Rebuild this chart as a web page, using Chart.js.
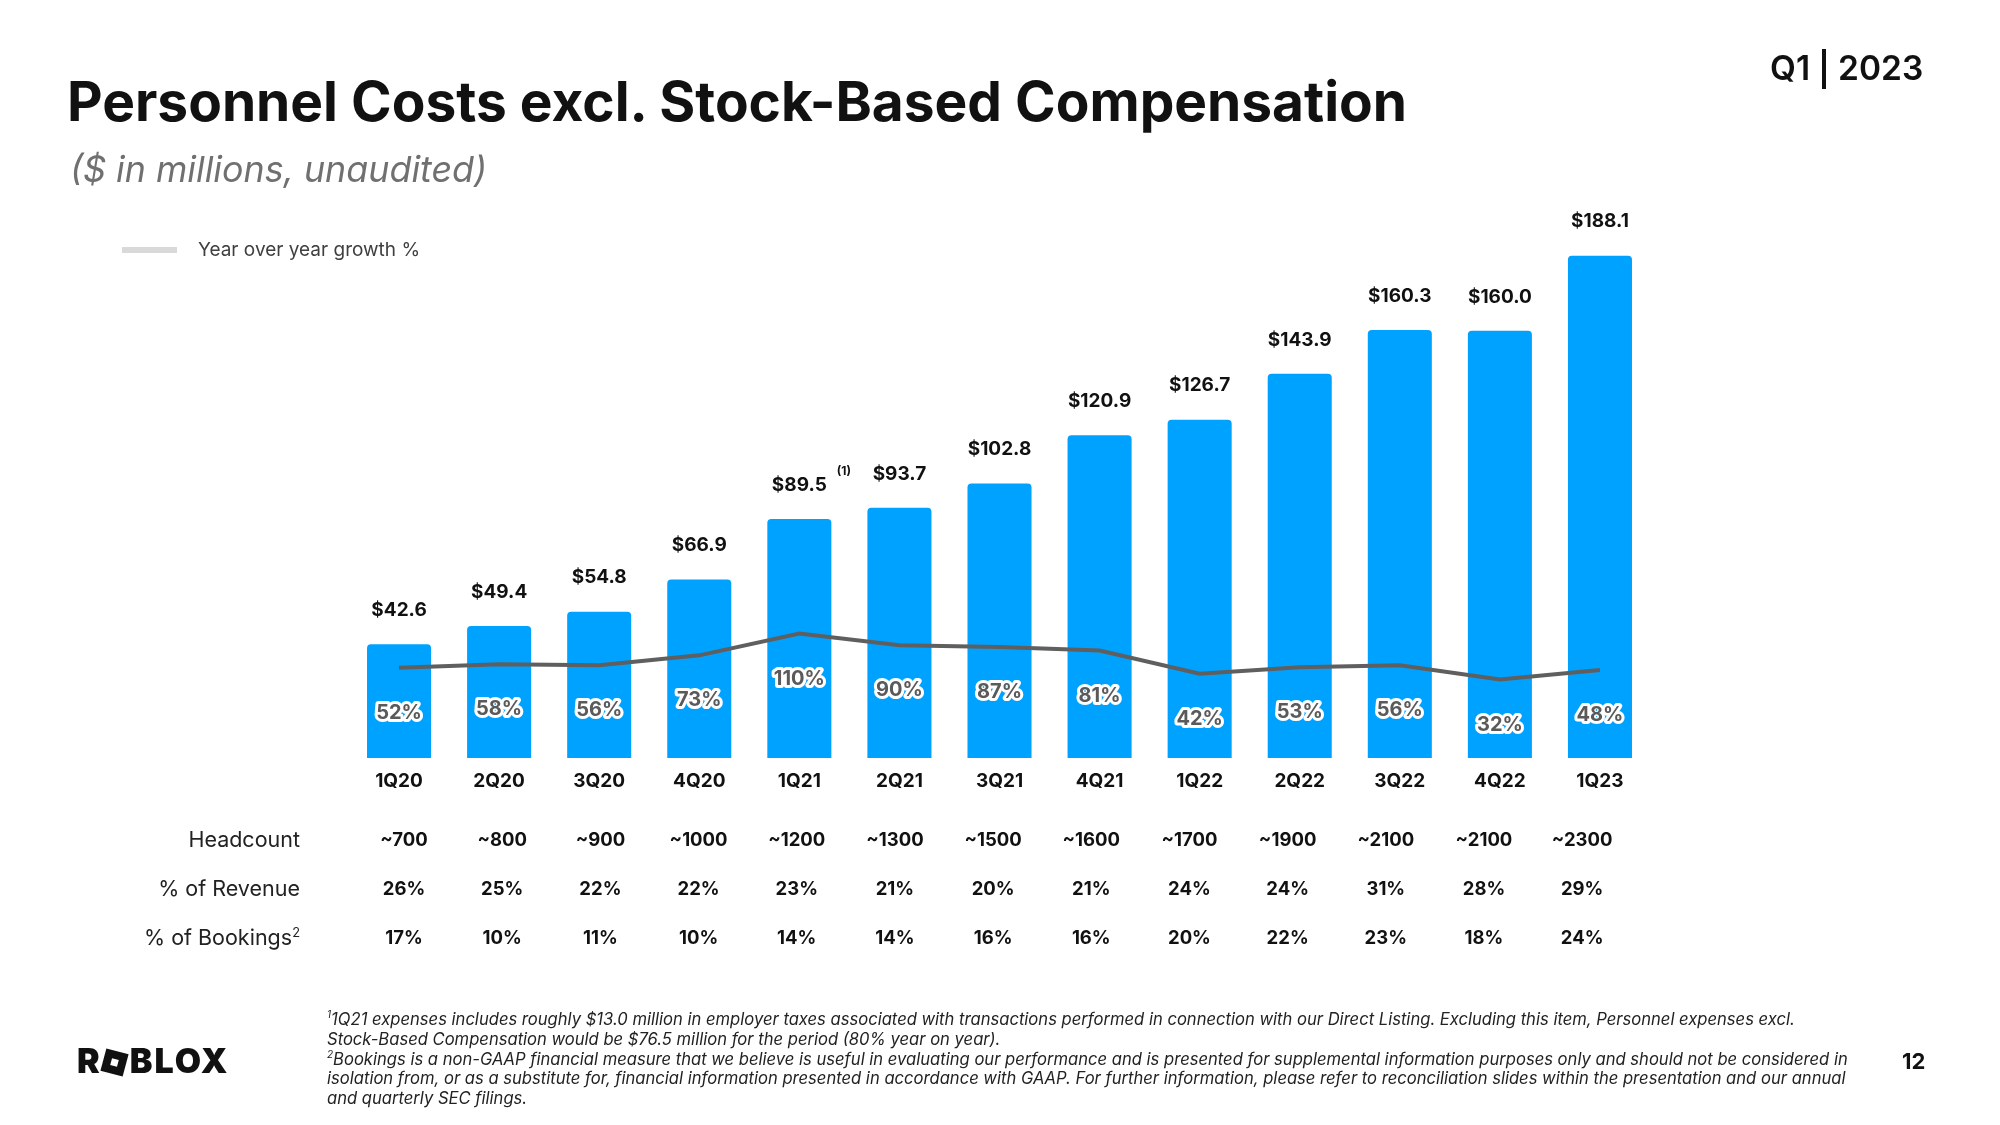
<!DOCTYPE html>
<html lang="en">
<head>
  <meta charset="UTF-8">
  <title>Personnel Costs excl. Stock-Based Compensation</title>
  <script src="https://cdn.jsdelivr.net/npm/chart.js"></script>
  <style>
    * {
      font-family: 'Inter', 'Noto Sans', sans-serif;
    }

    body {
      margin: 0;
      background: #ffffff;
      width: 2000px;
      height: 1125px;
      overflow: hidden;
      position: relative;
      color: #111;
    }

    #chart {
      position: absolute;
      left: 0;
      top: 0;
    }

    .title {
      position: absolute;
      left: 67px;
      top: 74px;
      font-size: 55px;
      line-height: 55px;
      font-weight: 700;
      white-space: nowrap;
    }

    .subtitle {
      position: absolute;
      left: 70px;
      top: 152px;
      font-size: 35.8px;
      line-height: 35px;
      font-style: italic;
      color: #707070;
      white-space: nowrap;
    }

    .period {
      position: absolute;
      left: 1770px;
      top: 49px;
      font-size: 33.5px;
      line-height: 38px;
      font-weight: 600;
      white-space: nowrap;
    }

    .period .sep {
      display: inline-block;
      width: 4px;
      height: 40px;
      background: #111;
      vertical-align: -9px;
      margin: 0 12px 0 12px;
    }

    .legend {
      position: absolute;
      left: 122px;
      top: 238px;
      display: flex;
      align-items: center;
      font-size: 19px;
      color: #404040;
    }

    .legend .swatch {
      width: 55px;
      height: 6px;
      background: #d9d9d9;
      margin-right: 21px;
    }

    .row-label {
      position: absolute;
      right: 1700px;
      font-size: 21.5px;
      line-height: 24px;
      color: #222;
      white-space: nowrap;
    }

    .row-label sup, .notes sup {
      font-size: 60%;
      line-height: 0;
    }

    .notes {
      position: absolute;
      left: 327px;
      top: 1010px;
      font-size: 16.6px;
      line-height: 19.8px;
      font-style: italic;
      color: #222;
      white-space: nowrap;
    }

    .logo {
      position: absolute;
      left: 77px;
      top: 1044px;
      font-size: 34px;
      line-height: 34px;
      font-weight: 900;
      white-space: nowrap;
      letter-spacing: 2px;
    }

    .logo .o {
      display: inline-block;
      width: 23px;
      height: 23px;
      background: #111;
      transform: rotate(15deg);
      margin: 0 4px 0 1px;
      vertical-align: -1px;
      position: relative;
    }

    .logo .o::after {
      content: '';
      position: absolute;
      left: 8px;
      top: 8px;
      width: 7px;
      height: 7px;
      background: #fff;
    }

    .page {
      position: absolute;
      left: 1902px;
      top: 1049px;
      font-size: 22px;
      line-height: 24px;
      font-weight: 700;
    }
  </style>
</head>
<body>
  <canvas id="chart" width="2000" height="1125"></canvas>

  <div class="title">Personnel Costs excl. Stock-Based Compensation</div>
  <div class="subtitle">($ in millions, unaudited)</div>
  <div class="period">Q1<span class="sep"></span>2023</div>

  <div class="legend"><div class="swatch"></div>Year over year growth %</div>

  <div class="row-label" style="top: 827px;">Headcount</div>
  <div class="row-label" style="top: 876px;">% of Revenue</div>
  <div class="row-label" style="top: 925px;">% of Bookings<sup>2</sup></div>

  <div class="notes">
    <sup>1</sup>1Q21 expenses includes roughly $13.0 million in employer taxes associated with transactions performed in connection with our Direct Listing. Excluding this item, Personnel expenses excl.<br>
    Stock-Based Compensation would be $76.5 million for the period (80% year on year).<br>
    <sup>2</sup>Bookings is a non-GAAP financial measure that we believe is useful in evaluating our performance and is presented for supplemental information purposes only and should not be considered in<br>
    isolation from, or as a substitute for, financial information presented in accordance with GAAP. For further information, please refer to reconciliation slides within the presentation and our annual<br>
    and quarterly SEC filings.
  </div>

  <div class="logo">R<span class="o"></span>BLOX</div>
  <div class="page">12</div>

  <script>
    // chart data
    const quarters = ['1Q20', '2Q20', '3Q20', '4Q20', '1Q21', '2Q21', '3Q21', '4Q21', '1Q22', '2Q22', '3Q22', '4Q22', '1Q23'];
    const personnelCosts = [42.6, 49.4, 54.8, 66.9, 89.5, 93.7, 102.8, 120.9, 126.7, 143.9, 160.3, 160.0, 188.1];
    const yoyGrowth = [52, 58, 56, 73, 110, 90, 87, 81, 42, 53, 56, 32, 48];

    // table under the chart
    const headcount = ['~700', '~800', '~900', '~1000', '~1200', '~1300', '~1500', '~1600', '~1700', '~1900', '~2100', '~2100', '~2300'];
    const pctRevenue = [26, 25, 22, 22, 23, 21, 20, 21, 24, 24, 31, 28, 29];
    const pctBookings = [17, 10, 11, 10, 14, 14, 16, 16, 20, 22, 23, 18, 24];

    const BLUE = '#00A2FF';
    const LINE_GREY = '#5f5f5f';

    // the table columns sit a little tighter than the bars
    const TABLE_SHIFT = 0.05;
    const TABLE_STEP = 0.981;

    // labels, growth tags and the table, drawn from the chart scales
    const labelsPlugin = {
      id: 'slideLabels',
      afterDatasetsDraw(chart) {
        const ctx = chart.ctx;
        const x = chart.scales.x;
        const y = chart.scales.y;
        const y2 = chart.scales.y2;
        ctx.save();
        ctx.textAlign = 'center';
        ctx.textBaseline = 'middle';

        quarters.forEach((q, i) => {
          const cx = x.getPixelForValue(i);

          // value above the bar
          const top = y.getPixelForValue(personnelCosts[i]);
          ctx.font = '700 19px Inter';
          ctx.fillStyle = '#111';
          const txt = '$' + personnelCosts[i].toFixed(1);
          ctx.fillText(txt, cx, top - 34);
          if (i === 4) {
            const w = ctx.measureText(txt).width;
            ctx.font = '700 12px Inter';
            ctx.fillText('(1)', cx + w / 2 + 17, top - 48);
          }

          // growth tag below the line
          const ly = y2.getPixelForValue(yoyGrowth[i]);
          ctx.font = '700 20px Inter';
          ctx.lineJoin = 'round';
          ctx.lineWidth = 6;
          ctx.strokeStyle = '#ffffff';
          ctx.strokeText(yoyGrowth[i] + '%', cx, ly + 45);
          ctx.fillStyle = '#5a5a5a';
          ctx.fillText(yoyGrowth[i] + '%', cx, ly + 45);

          // category label
          ctx.font = '700 19px Inter';
          ctx.fillStyle = '#111';
          ctx.fillText(q, cx, y.bottom + 23);

          // table values
          const tx = x.getPixelForValue(TABLE_SHIFT + TABLE_STEP * i);
          ctx.font = '700 18.5px Inter';
          ctx.fillText(headcount[i], tx, 840);
          ctx.fillText(pctRevenue[i] + '%', tx, 889);
          ctx.fillText(pctBookings[i] + '%', tx, 938);
        });
        ctx.restore();
      }
    };

    new Chart(document.getElementById('chart').getContext('2d'), {
      type: 'bar',
      data: {
        labels: quarters,
        datasets: [
          {
            type: 'line',
            label: 'Year over year growth %',
            data: yoyGrowth,
            yAxisID: 'y2',
            borderColor: LINE_GREY,
            borderWidth: 4,
            pointRadius: 0,
            tension: 0,
            order: 0
          },
          {
            type: 'bar',
            label: 'Personnel costs',
            data: personnelCosts,
            yAxisID: 'y',
            backgroundColor: BLUE,
            categoryPercentage: 1,
            barPercentage: 0.64,
            borderRadius: { topLeft: 4, topRight: 4 },
            borderSkipped: 'bottom',
            order: 1
          }
        ]
      },
      options: {
        responsive: false,
        animation: false,
        layout: {
          padding: { left: 349, right: 350, top: 224, bottom: 367 }
        },
        plugins: {
          legend: { display: false },
          tooltip: { enabled: false }
        },
        scales: {
          x: { display: false },
          y: { display: false, min: 0, max: 200 },
          y2: { display: false, min: -101, max: 804 }
        }
      },
      plugins: [labelsPlugin]
    });
  </script>
</body>
</html>
